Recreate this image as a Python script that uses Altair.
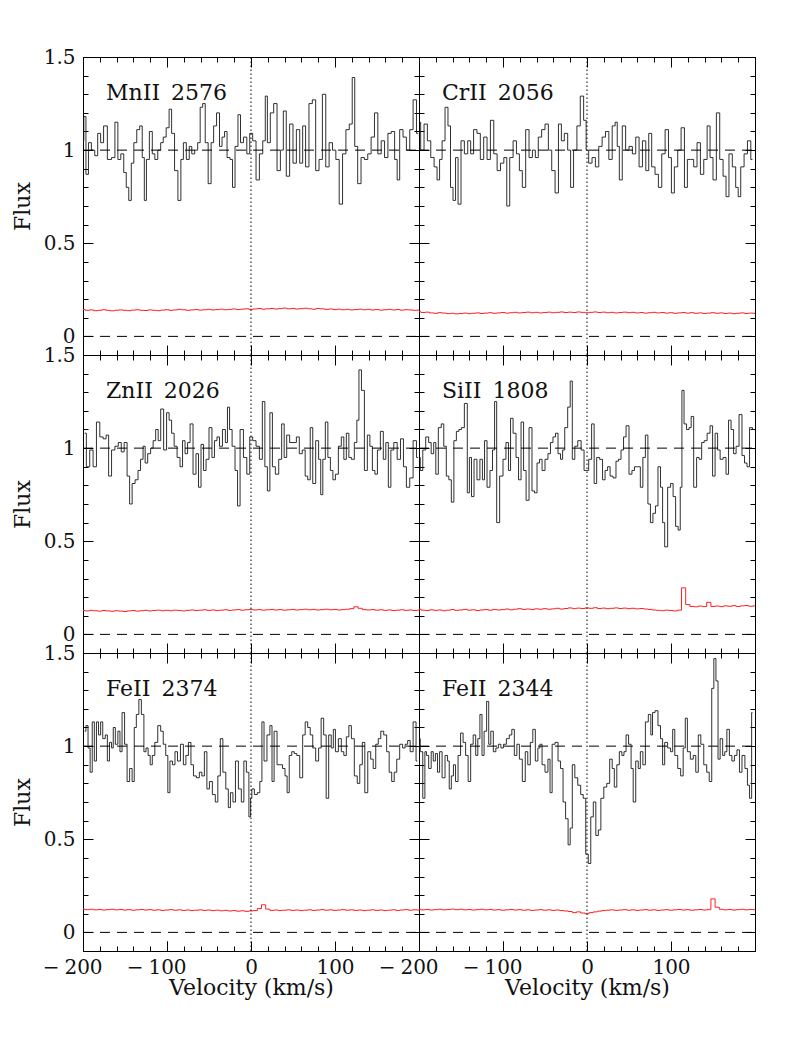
import altair as alt
import pandas as pd

# ---------------- data ----------------
# velocities (km/s) and normalised flux per transition
mn_v = [-200,-198,-195,-192,-188,-184,-181,-177,-174,-168,-164,-160,-157,-153,-150,-147,-144,-141,-138,-134,
        -131,-128,-126,-123,-119,-116,-113,-109,-106,-103,-99,-96,-93,-89,-85,-82,-79,-75,-72,-69,
        -65,-62,-59,-56,-53,-49,-46,-43,-39,-36,-33,-30,-27,-23,-21,-17,-14,-11,-7,-3,
        0,4,8,12,16,18,21,25,29,33,37,40,44,48,52,56,60,63,67,71,
        75,79,83,87,91,95,99,103,107,111,115,119,122,125,129,133,137,141,145,149,
        153,157,161,165,169,173,175,179,183,187,191,195,199]
mn_f = [1.05,1.18,0.87,1.04,1.00,0.97,1.09,1.04,1.13,0.95,0.96,1.15,0.95,0.98,0.88,0.80,0.73,0.93,1.04,1.11,
        1.13,0.96,0.73,0.95,1.10,0.98,0.95,1.00,1.04,1.07,1.12,1.22,1.09,0.89,0.73,0.95,1.04,0.95,1.02,0.98,
        1.00,1.04,1.23,1.25,1.04,0.82,1.04,1.13,1.20,1.02,1.07,1.10,0.96,0.95,0.80,1.02,1.19,1.04,1.07,0.98,
        1.09,1.05,0.84,0.98,1.05,1.29,1.04,1.20,1.25,0.89,1.00,1.21,0.86,1.14,0.93,1.11,0.93,1.13,0.91,1.25,
        1.27,0.89,0.95,1.30,0.91,1.04,1.00,0.95,0.71,0.98,1.11,1.14,1.39,1.02,0.82,0.96,0.95,0.98,1.07,1.20,
        0.98,1.05,0.96,1.09,1.10,0.95,0.84,1.11,1.07,1.00,1.11,1.27,1.09]

cr_v = [-200,-196,-192,-188,-184,-180,-177,-174,-171,-167,-164,-161,-158,-155,-152,-148,-144,-140,-137,-133,
        -129,-125,-121,-117,-113,-109,-105,-101,-97,-94,-90,-86,-82,-79,-75,-71,-67,-63,-60,-56,
        -52,-48,-44,-40,-36,-32,-29,-25,-21,-18,-14,-10,-6,-2,
        0,4,8,12,16,20,24,28,32,35,37,40,44,48,52,56,60,64,68,72,
        75,79,83,87,91,95,99,102,106,110,114,118,121,125,129,133,137,141,145,148,
        152,156,160,164,167,171,175,179,181,185,189,193,197]
cr_f = [1.15,1.00,1.14,1.05,0.96,0.91,0.84,0.95,1.05,1.23,1.13,0.80,0.73,0.96,0.71,1.05,0.98,1.05,0.98,1.11,
        1.09,0.95,1.07,0.95,1.16,0.98,0.89,0.93,0.96,0.70,0.96,1.05,0.98,0.89,0.80,1.11,0.96,1.00,0.96,1.07,
        1.11,1.14,1.00,0.89,0.77,1.14,1.05,1.09,1.00,0.80,1.00,1.13,1.29,1.16,
        1.00,0.93,0.96,0.91,1.02,1.07,1.10,0.95,1.13,1.15,1.02,0.84,1.13,1.00,1.02,0.98,1.07,0.91,1.05,0.89,
        1.09,0.91,0.87,0.80,0.98,1.11,0.96,0.77,0.91,1.00,1.12,0.80,0.95,0.95,0.91,1.04,0.87,0.95,1.13,0.96,
        0.84,1.20,0.95,0.86,0.75,0.98,0.91,0.80,0.75,0.91,0.98,1.05,0.95]

zn_v = [-198,-194,-190,-186,-182,-178,-174,-171,-168,-164,-160,-156,-153,-149,-146,-143,-140,-136,-133,-130,
        -127,-125,-121,-118,-115,-112,-109,-106,-102,-99,-96,-93,-90,-86,-83,-80,-77,-74,-71,-67,
        -64,-61,-58,-55,-52,-48,-45,-42,-39,-36,-32,-29,-27,-24,-21,-17,-15,-11,-7,-3,
        0,4,8,12,15,18,21,24,27,31,35,38,41,44,48,52,56,59,63,66,
        69,72,75,79,82,84,87,90,93,96,99,102,106,109,112,115,118,121,125,127,
        130,133,137,140,143,146,149,152,156,159,162,165,168,172,176,180,183,187,191,195,199]
zn_f = [1.08,0.90,0.99,0.90,1.14,1.06,1.05,1.07,0.85,0.99,1.01,1.03,0.98,1.03,0.85,0.70,0.81,0.83,0.88,0.94,
        1.01,0.92,0.97,1.00,1.04,1.10,1.04,1.21,0.99,1.19,1.15,1.08,1.01,0.95,0.90,1.04,0.97,1.03,1.13,0.86,
        0.97,0.79,1.02,0.88,0.94,1.11,0.95,1.04,1.06,1.01,1.10,1.03,1.22,1.10,1.01,0.88,0.69,1.10,0.95,0.86,
        1.06,1.04,1.01,0.94,1.25,0.90,0.77,1.19,0.90,0.86,0.94,1.13,0.95,1.07,1.03,1.03,1.06,0.97,0.99,0.85,
        0.83,1.11,0.81,1.04,0.94,0.75,0.94,1.14,0.95,0.88,0.83,0.86,1.01,1.06,0.94,1.08,0.95,0.94,1.03,1.15,
        1.42,1.31,0.88,1.07,1.01,0.88,0.86,0.99,1.09,0.94,1.03,0.79,0.99,1.03,0.94,1.05,0.90,0.79,0.84,1.04,0.95]

si_v = [-200,-197,-194,-190,-187,-184,-181,-179,-175,-172,-169,-166,-163,-160,-157,-154,-151,-148,-144,-141,
        -139,-136,-133,-129,-126,-123,-121,-117,-114,-111,-109,-106,-102,-98,-95,-92,-90,-86,-83,-80,
        -77,-74,-71,-67,-64,-61,-58,-55,-52,-48,-45,-42,-39,-36,-33,-30,-28,-25,-21,-19,
        -16,-13,-9,-5,-2,
        0,4,7,10,13,17,20,23,26,29,33,36,39,42,45,48,52,55,58,62,
        65,68,71,74,77,80,83,86,89,91,94,98,101,104,107,110,112,114,117,120,
        123,125,129,132,135,138,141,145,148,151,154,157,160,164,167,170,173,176,179,183,
        186,189,192,195,199]
si_f = [0.95,0.88,0.99,1.06,1.03,0.97,1.03,0.86,1.11,1.13,1.01,0.85,0.83,0.71,1.04,1.09,1.10,1.11,1.24,0.76,
        0.95,0.74,0.94,0.83,0.94,0.83,1.04,0.79,0.88,0.99,1.25,0.60,0.85,0.94,1.03,0.88,1.16,1.08,0.95,0.83,
        1.14,0.88,0.72,1.11,0.77,0.76,0.92,0.94,0.88,0.94,0.97,1.03,1.06,1.08,0.97,0.94,0.99,1.11,1.22,1.36,
        0.94,1.01,1.04,0.99,0.88,
        0.88,0.94,1.13,0.81,0.95,0.94,0.83,0.88,0.90,0.85,0.84,0.93,0.94,0.99,1.06,1.12,0.86,0.88,0.90,0.90,
        0.79,0.95,1.07,0.70,0.60,0.65,0.69,0.90,0.79,0.60,0.47,0.79,0.81,0.74,0.58,0.56,0.79,1.31,1.13,1.10,
        1.11,1.17,0.79,0.95,0.94,1.03,1.04,1.08,1.12,0.85,1.08,0.99,0.94,0.95,0.86,1.15,1.10,0.97,1.01,1.18,
        0.96,0.92,0.90,1.11,1.10]

fe74_v = [-198,-195,-193,-190,-188,-185,-183,-180,-178,-175,-172,-170,-167,-165,-163,-160,-157,-155,-152,-149,
          -146,-143,-140,-138,-135,-132,-129,-126,-124,-121,-119,-116,-113,-109,-106,-103,-100,-98,-95,-92,
          -89,-86,-82,-79,-76,-73,-70,-67,-63,-60,-57,-54,-51,-48,-44,-41,-38,-35,-32,-28,
          -26,-23,-20,-17,-13,-10,-7,-4,-1,
          0,2,6,9,12,14,17,21,24,26,29,33,36,39,42,44,47,50,53,56,
          60,63,66,69,72,75,79,82,85,88,91,94,97,99,102,106,109,112,115,118,
          121,125,128,131,134,137,141,144,147,150,153,156,160,163,166,169,172,175,179,182,
          185,188,191,195,198]
fe74_f = [1.08,1.11,0.99,0.86,1.13,0.92,1.13,1.06,1.13,1.04,1.06,0.92,1.02,0.99,1.10,1.01,1.08,0.97,1.18,1.01,
          0.81,0.88,0.81,1.10,1.17,1.25,1.17,0.97,0.99,0.95,0.90,0.95,1.02,1.11,1.08,1.01,0.95,0.75,0.92,0.90,
          0.97,0.92,1.01,0.90,0.95,1.02,0.90,0.84,0.83,0.86,0.84,0.97,0.77,0.81,0.74,0.70,0.84,1.04,0.86,0.77,
          0.67,0.75,0.70,0.92,0.77,0.70,0.92,0.86,0.62,
          0.72,0.77,0.74,0.75,0.81,1.13,0.92,1.06,1.11,0.81,1.08,0.90,0.90,0.88,0.84,0.75,0.95,0.97,0.96,0.95,
          0.83,1.06,1.13,1.10,1.06,0.99,0.92,0.99,1.15,1.06,0.72,1.06,0.99,1.09,0.97,1.04,0.97,0.95,1.05,1.11,
          1.04,0.84,0.80,0.90,1.02,0.75,0.97,0.93,0.88,1.01,1.04,1.08,1.06,0.97,0.86,0.81,0.86,0.93,1.01,0.99,
          1.01,1.03,0.97,1.13,0.92]

fe44_v = [-200,-197,-194,-192,-190,-187,-184,-182,-179,-177,-174,-171,-167,-165,-163,-160,-158,-155,-152,-149,
          -146,-143,-140,-137,-134,-131,-129,-126,-124,-121,-118,-116,-113,-110,-107,-104,-101,-98,-94,-91,
          -88,-85,-82,-79,-75,-72,-69,-66,-63,-60,-57,-55,-52,-48,-45,-43,-40,-36,-33,-30,
          -27,-24,-21,-19,-16,-13,-9,-6,-3,
          0,3,6,9,12,15,18,22,25,29,31,34,37,40,43,45,48,51,54,56,
          60,62,65,68,71,75,77,79,83,86,89,91,94,98,101,103,106,110,113,116,
          118,121,125,128,131,134,137,141,144,147,150,152,155,157,160,163,165,168,171,174,
          177,180,183,186,190,192,195,197]
fe44_f = [1.04,0.97,0.72,0.97,0.95,0.88,0.97,0.92,0.96,0.86,0.97,0.83,0.95,0.92,0.77,0.84,0.90,0.81,0.95,1.07,
          1.02,0.95,0.81,1.01,1.06,0.95,1.04,1.17,0.95,1.08,1.24,1.01,1.08,0.97,0.99,1.01,0.99,1.01,1.04,1.06,
          1.09,0.95,1.01,0.93,0.81,0.97,0.90,1.02,1.09,0.92,0.99,1.01,0.90,0.86,0.93,0.75,1.01,1.02,0.92,0.88,
          0.70,0.61,0.47,0.56,0.90,0.83,0.79,0.74,0.72,
          0.42,0.37,0.62,0.70,0.52,0.55,0.72,0.78,0.80,0.93,0.88,0.78,0.90,0.97,0.95,0.97,1.06,1.01,0.88,0.70,
          0.92,0.88,0.97,0.90,1.13,1.17,1.06,1.18,1.19,1.11,1.04,0.90,1.02,0.99,0.97,1.09,0.95,0.88,0.84,0.99,
          1.15,0.97,0.93,0.95,0.86,1.06,1.01,0.90,0.86,0.81,1.31,1.47,1.35,0.93,1.04,0.95,0.97,1.09,0.95,0.92,
          0.95,0.98,0.86,0.95,0.88,0.79,0.72,1.18]

# error spectra on a 5 km/s grid
err_v = list(range(-200, 201, 5))
mn_e = [0.145,0.140,0.142,0.138,0.140,0.143,0.140,0.137,0.140,0.142,
        0.140,0.138,0.141,0.143,0.140,0.139,0.142,0.140,0.138,0.141,
        0.143,0.140,0.142,0.145,0.143,0.140,0.142,0.144,0.141,0.143,
        0.145,0.142,0.144,0.146,0.143,0.145,0.147,0.144,0.146,0.148,
        0.145,0.147,0.150,0.146,0.148,0.150,0.147,0.149,0.152,0.148,
        0.150,0.147,0.149,0.151,0.148,0.146,0.150,0.148,0.145,0.147,
        0.144,0.146,0.143,0.145,0.142,0.144,0.146,0.143,0.145,0.142,
        0.144,0.141,0.143,0.145,0.142,0.144,0.141,0.143,0.142,0.140,
        0.141]
cr_e = [0.132,0.128,0.130,0.126,0.124,0.127,0.125,0.122,0.124,0.121,
        0.123,0.125,0.122,0.124,0.126,0.123,0.125,0.127,0.124,0.126,
        0.128,0.125,0.127,0.129,0.126,0.128,0.130,0.127,0.129,0.126,
        0.128,0.130,0.127,0.129,0.131,0.128,0.130,0.128,0.131,0.129,
        0.127,0.129,0.131,0.128,0.130,0.127,0.129,0.126,0.128,0.130,
        0.127,0.129,0.126,0.128,0.125,0.127,0.129,0.126,0.128,0.125,
        0.127,0.124,0.126,0.128,0.125,0.127,0.124,0.126,0.123,0.125,
        0.127,0.124,0.126,0.123,0.125,0.122,0.124,0.126,0.123,0.125,
        0.124]
zn_e = [0.128,0.126,0.129,0.127,0.125,0.128,0.126,0.124,0.127,0.125,
        0.123,0.126,0.128,0.125,0.127,0.129,0.126,0.128,0.130,0.127,
        0.129,0.127,0.130,0.128,0.126,0.129,0.131,0.128,0.130,0.132,
        0.129,0.131,0.128,0.130,0.132,0.129,0.131,0.133,0.130,0.132,
        0.134,0.131,0.133,0.130,0.132,0.134,0.131,0.133,0.130,0.132,
        0.134,0.131,0.133,0.135,0.132,0.134,0.131,0.133,0.135,0.132,
        0.134,0.131,0.133,0.135,0.138,0.148,0.140,0.133,0.131,0.133,
        0.130,0.132,0.129,0.131,0.128,0.130,0.132,0.129,0.131,0.128,
        0.130]
si_e = [0.135,0.130,0.128,0.132,0.129,0.131,0.127,0.130,0.133,0.129,
        0.131,0.134,0.130,0.132,0.128,0.131,0.133,0.130,0.134,0.131,
        0.133,0.136,0.132,0.135,0.138,0.134,0.136,0.133,0.137,0.135,
        0.138,0.135,0.137,0.140,0.136,0.139,0.142,0.138,0.141,0.139,
        0.142,0.140,0.143,0.139,0.141,0.138,0.140,0.142,0.139,0.141,
        0.138,0.140,0.137,0.139,0.136,0.134,0.131,0.129,0.127,0.130,
        0.128,0.126,0.130,0.250,0.160,0.150,0.148,0.152,0.149,0.172,
        0.150,0.152,0.149,0.153,0.151,0.154,0.150,0.153,0.155,0.151,
        0.153]
fe74_e = [0.125,0.122,0.124,0.121,0.123,0.120,0.122,0.124,0.121,0.123,
          0.120,0.122,0.119,0.121,0.123,0.120,0.122,0.119,0.121,0.118,
          0.120,0.122,0.119,0.121,0.118,0.120,0.117,0.119,0.121,0.118,
          0.120,0.117,0.119,0.116,0.118,0.115,0.117,0.114,0.116,0.113,
          0.115,0.117,0.128,0.148,0.125,0.118,0.120,0.117,0.119,0.121,
          0.118,0.120,0.117,0.119,0.121,0.118,0.120,0.122,0.119,0.121,
          0.118,0.120,0.122,0.119,0.121,0.118,0.120,0.117,0.119,0.121,
          0.118,0.120,0.117,0.119,0.121,0.118,0.120,0.122,0.119,0.121,
          0.120]
fe44_e = [0.124,0.121,0.123,0.120,0.122,0.124,0.121,0.123,0.125,0.122,
          0.124,0.121,0.123,0.120,0.122,0.124,0.121,0.123,0.120,0.122,
          0.119,0.121,0.123,0.120,0.122,0.119,0.121,0.118,0.120,0.122,
          0.119,0.121,0.118,0.120,0.117,0.115,0.112,0.106,0.110,0.104,
          0.100,0.106,0.110,0.114,0.117,0.119,0.121,0.118,0.120,0.122,
          0.119,0.121,0.118,0.120,0.122,0.119,0.121,0.118,0.120,0.122,
          0.119,0.121,0.123,0.120,0.122,0.119,0.121,0.123,0.120,0.122,
          0.180,0.135,0.124,0.121,0.123,0.120,0.122,0.124,0.121,0.123,
          0.122]

panel_names = ["MnII\u20022576", "CrII\u20022056", "ZnII\u20022026",
               "SiII\u20021808", "FeII\u20022374", "FeII\u20022344"]
flux_v = [mn_v, cr_v, zn_v, si_v, fe74_v, fe44_v]
flux_f = [mn_f, cr_f, zn_f, si_f, fe74_f, fe44_f]
err_f = [mn_e, cr_e, zn_e, si_e, fe74_e, fe44_e]

x_major = [-200, -100, 0, 100, 200]
x_minor = list(range(-200, 201, 20))
y_major = [0, 0.5, 1, 1.5]
y_minor = [-0.1, 0.0, 0.1, 0.2, 0.3, 0.4, 0.5, 0.6, 0.7, 0.8, 0.9, 1.0, 1.1, 1.2, 1.3, 1.4, 1.5]
ref_levels = [0, 1]

# ---------------- chart ----------------
FONT = "DejaVu Serif"
W, H = 336, 298
MAJ, MIN = 10, 5
xs = alt.Scale(domain=[-200, 200], nice=False, zero=False)
ys = alt.Scale(domain=[-0.1, 1.5], nice=False, zero=False)


def tick_axis(orient, values, size, **kw):
    base = dict(orient=orient, values=values, tickSize=size, offset=-size,
                domain=False, grid=False, ticks=True, tickColor="black", tickWidth=1)
    base.update(kw)
    if "labels" not in base:
        base["labels"] = False
    if "title" not in base:
        base["title"] = None
    return alt.Axis(**base)


def make_panel(i):
    row, col = divmod(i, 2)
    bottom = row == 2
    left = col == 0

    if bottom:
        xb = tick_axis("bottom", x_major, MAJ, labels=True, labelPadding=6,
                       labelExpr="datum.value >= 200 ? '' : '' + abs(datum.value)",
                       title="Velocity (km/s)", titlePadding=0)
    else:
        xb = tick_axis("bottom", x_major, MAJ)
    if left:
        yl = tick_axis("left", y_major, MAJ, labels=True, labelPadding=8,
                       labelExpr="'' + datum.value", title="Flux", titlePadding=9)
    else:
        yl = tick_axis("left", y_major, MAJ)

    spec_df = pd.DataFrame({"v": flux_v[i], "f": flux_f[i]})
    err_df = pd.DataFrame({"v": err_v, "f": err_f[i]})
    hl_df = pd.DataFrame({"x0": [-200] * len(ref_levels), "x1": [200] * len(ref_levels), "y": ref_levels})
    vl_df = pd.DataFrame({"v": [0], "y0": [-0.1], "y1": [1.5]})
    lab_df = pd.DataFrame({"t": [panel_names[i]]})

    spec = alt.Chart(spec_df).mark_line(interpolate="step", color="#1a1a1a", strokeWidth=0.9, clip=True).encode(
        x=alt.X("v:Q", scale=xs, axis=xb),
        y=alt.Y("f:Q", scale=ys, axis=yl),
    )
    err = alt.Chart(err_df).mark_line(interpolate="step", color="#ff2020", strokeWidth=1, clip=True).encode(
        x=alt.X("v:Q", scale=xs, axis=tick_axis("bottom", x_minor, MIN)),
        y=alt.Y("f:Q", scale=ys, axis=tick_axis("left", y_minor, MIN)),
    )
    hl = alt.Chart(hl_df).mark_rule(color="black", strokeWidth=1, strokeDash=[10, 7]).encode(
        x=alt.X("x0:Q", scale=xs, axis=tick_axis("top", x_major, MAJ)),
        x2="x1:Q",
        y=alt.Y("y:Q", scale=ys, axis=tick_axis("right", y_major, MAJ)),
    )
    vl = alt.Chart(vl_df).mark_rule(color="black", strokeWidth=1, strokeDash=[1.5, 2.5]).encode(
        x=alt.X("v:Q", scale=xs, axis=tick_axis("top", x_minor, MIN)),
        y=alt.Y("y0:Q", scale=ys, axis=tick_axis("right", y_minor, MIN)),
        y2="y1:Q",
    )
    lab = alt.Chart(lab_df).mark_text(align="left", baseline="alphabetic", font=FONT,
                                      fontSize=22, color="#111").encode(
        x=alt.value(23), y=alt.value(43), text="t:N")
    layers = [spec, err, hl, vl, lab]
    if bottom:
        minus = alt.Chart(hl_df).mark_rule(opacity=0).encode(
            x=alt.X("x0:Q", scale=xs,
                    axis=tick_axis("bottom", [-200, -100], MAJ, labels=True, labelPadding=6,
                                   labelExpr="'\u2212'", labelAlign="right", labelOffset=-24)),
            y=alt.Y("y:Q", scale=ys, axis=None),
        )
        layers.append(minus)
    return alt.layer(*layers).properties(width=W, height=H).resolve_axis(x="independent", y="independent")


chart = alt.concat(*[make_panel(i) for i in range(6)], columns=2, spacing=0, bounds="flush").properties(
    padding={"left": 2, "top": 38, "right": 10, "bottom": 10}
).configure_view(stroke="black", strokeWidth=1).configure_axis(
    labelFont=FONT, labelFontSize=20, labelColor="#111",
    titleFont=FONT, titleFontSize=22, titleFontWeight="normal", titleColor="#111",
    labelFlush=False, labelOverlap=False,
)

chart.save("out.html", embed_options={"renderer": "svg", "actions": False})
